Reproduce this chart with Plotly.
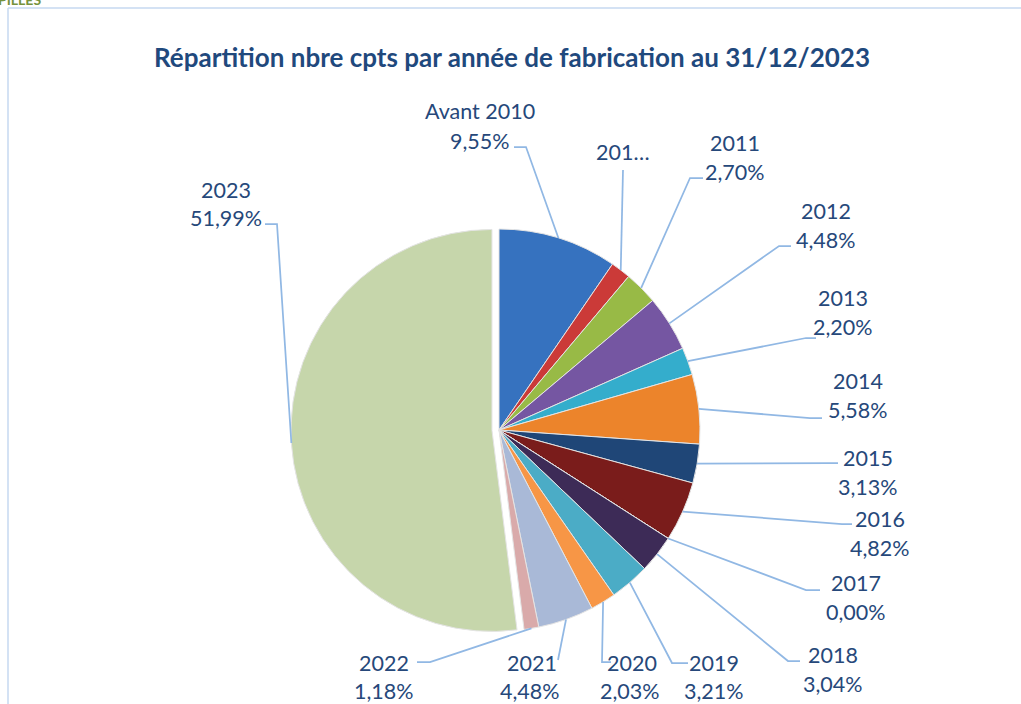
import math
import plotly.graph_objects as go

# ---------------- data ----------------
categories = ["Avant 2010", "2010", "2011", "2012", "2013", "2014", "2015",
              "2016", "2017", "2018", "2019", "2020", "2021", "2022", "2023"]
display_names = ["Avant 2010", "201…", "2011", "2012", "2013", "2014", "2015",
                 "2016", "2017", "2018", "2019", "2020", "2021", "2022", "2023"]
shares = [9.55, 1.61, 2.70, 4.48, 2.20, 5.58, 3.13,
          4.82, 0.00, 3.04, 3.21, 2.03, 4.48, 1.18, 51.99]
show_pct = [True, False, True, True, True, True, True,
            True, True, True, True, True, True, True, True]
title_text = "Répartition nbre cpts par année de fabrication au 31/12/2023"

# ---------------- styles / layout ----------------
colors = ["#3672BF", "#CB3A38", "#98BA46", "#7556A2", "#34ADCC", "#EC842B", "#1F4677",
          "#7A1C1B", "#4F6228", "#3D2B57", "#4BACC6", "#F79646", "#A9B9D7", "#D9AAAA", "#C6D6AB"]
pulls = [0] * 14 + [0.035]

W, H = 1021, 704
PIE_CX, PIE_CY, PIE_R = 499, 430, 201
TXT = "#26487A"
LEAD = "rgb(145,184,228)"
FONT = "Lato"
LBL_SIZE = 21.5

# label placement (pixels): name pos, pct pos, leader elbow points (from pie edge outward)
label_layout = [
    dict(name=(480, 111), pct=(480, 141), pts=[(526, 147), (514, 147)]),
    dict(name=(623, 152), pct=None, pts=[(623, 170)]),
    dict(name=(735, 143), pct=(735, 172), pts=[(690, 178), (703, 178)]),
    dict(name=(826, 211), pct=(826, 240), pts=[(779, 246), (791, 246)]),
    dict(name=(843, 298), pct=(843, 327), pts=[(806, 338), (816, 338)]),
    dict(name=(858, 381), pct=(858, 410), pts=[(810, 418), (822, 418)]),
    dict(name=(868, 458), pct=(868, 487), pts=[(828, 463), (838, 463)]),
    dict(name=(880, 519), pct=(880, 548), pts=[(842, 524), (852, 524)]),
    dict(name=(856, 583), pct=(856, 612), pts=[(806, 590), (820, 590)]),
    dict(name=(833, 655), pct=(833, 684), pts=[(788, 661), (800, 661)]),
    dict(name=(714, 663), pct=(714, 691), pts=[(672, 663), (688, 663)]),
    dict(name=(632, 663), pct=(630, 691), pts=[(602, 662), (611, 662)]),
    dict(name=(532, 663), pct=(530, 691), pts=[(558, 660)]),
    dict(name=(384, 663), pct=(384, 691), pts=[(430, 662), (417, 662)]),
    dict(name=(226, 190), pct=(226, 218), pts=[(277, 224), (265, 224)]),
]


def px(x):
    return x / W


def py(y):
    return 1 - y / H


maxpull = max(pulls)
half = PIE_R * (1 + maxpull)
domain_x = [px(PIE_CX - half), px(PIE_CX + half)]
domain_y = [py(PIE_CY + half), py(PIE_CY - half)]

fig = go.Figure()
fig.add_trace(go.Pie(
    labels=categories, values=shares, sort=False, direction="clockwise", rotation=0,
    marker=dict(colors=colors, line=dict(color="#E4E4E4", width=1)),
    pull=pulls, textinfo="none", hoverinfo="label+percent", showlegend=False,
    domain=dict(x=domain_x, y=domain_y),
))

annotations = []
shapes = []

# leader lines + labels
total = sum(shares)
cum = 0.0
for i, v in enumerate(shares):
    mid = (cum + v / 2) / total
    cum += v
    ang = 2 * math.pi * mid
    cx = PIE_CX + pulls[i] * PIE_R * math.sin(ang)
    cy = PIE_CY - pulls[i] * PIE_R * math.cos(ang)
    ex = cx + PIE_R * math.sin(ang)
    ey = cy - PIE_R * math.cos(ang)
    lay = label_layout[i]
    pts = [(ex, ey)] + lay["pts"]
    path = "M " + " L ".join(f"{px(x)},{py(y)}" for x, y in pts)
    shapes.append(dict(type="path", xref="paper", yref="paper", path=path,
                       line=dict(color=LEAD, width=1.75), layer="above"))
    nx, ny = lay["name"]
    annotations.append(dict(x=px(nx), y=py(ny), xref="paper", yref="paper", text=display_names[i],
                            showarrow=False, xanchor="center", yanchor="middle",
                            font=dict(family=FONT, size=LBL_SIZE, color=TXT)))
    if show_pct[i] and lay["pct"]:
        qx, qy = lay["pct"]
        annotations.append(dict(x=px(qx), y=py(qy), xref="paper", yref="paper",
                                text=f"{v:.2f}".replace(".", ",") + "%",
                                showarrow=False, xanchor="center", yanchor="middle",
                                font=dict(family=FONT, size=LBL_SIZE, color=TXT)))

# title
annotations.append(dict(x=px(512), y=py(57), xref="paper", yref="paper",
                        text="<b>" + title_text + "</b>", showarrow=False,
                        xanchor="center", yanchor="middle",
                        font=dict(family=FONT, size=26, color="#1F497D")))
# clipped header fragment
annotations.append(dict(x=px(-4), y=py(10), xref="paper", yref="paper", text="<b>PILLES</b>",
                        showarrow=False, xanchor="left", yanchor="bottom",
                        font=dict(family=FONT, size=14, color="#76923C")))

# chart-area frame (top and left edges visible)
shapes.append(dict(type="line", xref="paper", yref="paper", x0=px(8), x1=1.0, y0=py(8), y1=py(8),
                   line=dict(color="#C6D9F1", width=1.5)))
shapes.append(dict(type="line", xref="paper", yref="paper", x0=px(8), x1=px(8), y0=py(8), y1=0,
                   line=dict(color="#C6D9F1", width=1.5)))

fig.update_layout(width=W, height=H, margin=dict(l=0, r=0, t=0, b=0),
                  paper_bgcolor="white", plot_bgcolor="white",
                  annotations=annotations, shapes=shapes)
fig.write_html("out.html", config={"displayModeBar": False},
               post_script="document.body.style.margin='0';")
